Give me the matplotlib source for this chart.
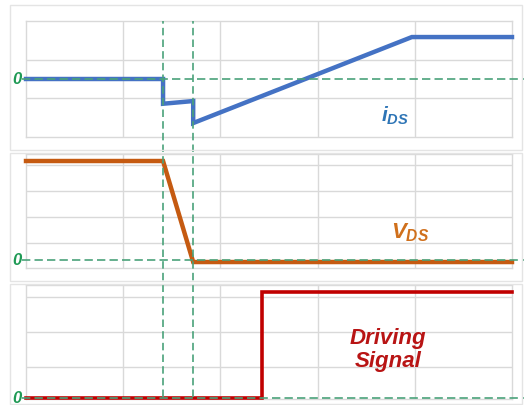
import matplotlib
matplotlib.use("Agg")
import matplotlib.pyplot as plt
from matplotlib.patches import Rectangle

plt.rcParams['font.family'] = ['Liberation Sans', 'DejaVu Sans']
plt.rcParams['mathtext.fontset'] = 'custom'
plt.rcParams['mathtext.rm'] = 'Liberation Sans:bold:italic'
plt.rcParams['mathtext.it'] = 'Liberation Sans:bold:italic'
plt.rcParams['mathtext.bf'] = 'Liberation Sans:bold:italic'

# time axis (arbitrary units, 5 grid columns)
t_ids = [0, 2.82, 2.82, 3.44, 3.44, 7.94, 10]
i_ds = [0, 0, -1.28, -1.14, -2.28, 2.17, 2.17]

t_vds = [0, 2.82, 3.44, 10]
v_ds = [3.81, 3.81, -0.08, -0.08]

t_drv = [0, 4.86, 4.86, 10]
drv = [0, 0, 3.03, 3.03]

markers = [2.82, 3.44]   # vertical dashed guides

W, H = 524, 406
fig = plt.figure(figsize=(W / 100, H / 100), dpi=100)

GRID = '#d9d9d9'
GREEN = '#1f9a55'
DASH_G = '#4aa27a'


def box(left, top, right, bottom):
    return [left / W, 1 - bottom / H, (right - left) / W, (bottom - top) / H]


# outer chart-area borders
for top, bottom in [(6, 151), (154, 282), (285, 405)]:
    fig.patches.append(Rectangle((10 / W, 1 - bottom / H), (522 - 10) / W, (bottom - top) / H,
                                 transform=fig.transFigure, fill=False,
                                 edgecolor='#e4e4e4', lw=1))

panels = [
    dict(pos=box(26, 22, 512, 138), ylim=(-3, 3), grid=[-1, 1],
         x=t_ids, y=i_ds, color='#4472c4', lw=3.2),
    dict(pos=box(26, 155, 512, 269), ylim=(-0.31, 4.08), grid=[0.65, 1.65, 2.65, 3.65],
         x=t_vds, y=v_ds, color='#c55a11', lw=3.2),
    dict(pos=box(26, 286, 512, 400), ylim=(-0.03, 3.23), grid=[0.886, 1.886, 2.886],
         x=t_drv, y=drv, color='#c00000', lw=2.6),
]

axes = []
for p in panels:
    ax = fig.add_axes(p['pos'])
    ax.set_xlim(0, 10)
    ax.set_ylim(*p['ylim'])
    ax.set_xticks([2, 4, 6, 8])
    ax.set_yticks(p['grid'])
    ax.tick_params(length=0, labelleft=False, labelbottom=False)
    ax.grid(True, color=GRID, lw=1)
    for s in ax.spines.values():
        s.set_color(GRID)
        s.set_linewidth(1)
    ax.plot(p['x'], p['y'], color=p['color'], lw=p['lw'], clip_on=False,
            solid_joinstyle='miter', zorder=3)
    # zero reference line, running past the plot area
    ax.plot([-0.08, 10.25], [0, 0], color=DASH_G, lw=1.2, ls=(0, (5, 2.5)),
            clip_on=False, zorder=4)
    ax.text(-0.09, 0, '0', color=GREEN, fontsize=12, fontweight='bold',
            fontstyle='italic', ha='right', va='center', clip_on=False, zorder=5)
    axes.append(ax)

axes[0].text(7.6, -1.85, r'$i_{DS}$', color='#2e75b6', fontsize=15,
             ha='center', va='center')
axes[1].text(7.9, 1.1, r'$V_{DS}$', color='#d0701c', fontsize=16,
             ha='center', va='center')
axes[2].text(7.45, 1.4, 'Driving\nSignal', color='#b81414', fontsize=16,
             fontweight='bold', fontstyle='italic', ha='center', va='center',
             linespacing=1.15)

# vertical guides spanning all three panels
ov = fig.add_axes(box(26, 22, 512, 398))
ov.set_xlim(0, 10)
ov.set_ylim(0, 1)
ov.axis('off')
ov.patch.set_alpha(0)
for m in markers:
    ov.axvline(m, color=DASH_G, lw=1.2, ls=(0, (4.5, 2.5)))

fig.savefig('out.png', dpi=100)
